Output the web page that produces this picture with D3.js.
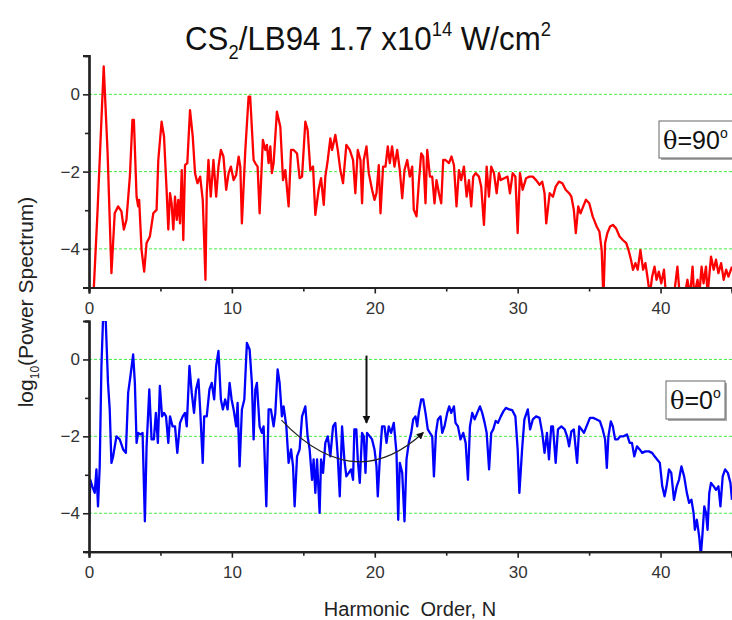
<!DOCTYPE html>
<html>
<head>
<meta charset="utf-8">
<script src="https://cdn.jsdelivr.net/npm/d3@7"></script>
<style>
  body { margin: 0; background: #fff; }
  text { font-family: Arial, "Liberation Sans", sans-serif; }
</style>
</head>
<body>
<svg id="chart" width="732" height="620"></svg>
<script>
// Data: [harmonic order, log10(power)]
var redSeries = [
  [0.3,-5.3],[0.6,-3.0],[1.03,0.72],[1.3,-1.5],[1.57,-4.63],[1.8,-3.08],[2.04,-2.9],[2.27,-3.03],[2.44,-3.5],[2.62,-3.25],
  [2.86,-2.13],[3.04,-0.66],[3.14,-0.66],[3.33,-2.65],[3.44,-2.9],[3.51,-2.73],[3.68,-4.03],[3.86,-4.59],[4.03,-3.85],[4.26,-3.68],
  [4.5,-3.08],[4.73,-2.99],[4.85,-1.7],[5.08,-0.71],[5.25,-1.09],[5.43,-2.47],[5.55,-3.5],[5.67,-2.56],[5.78,-2.82],[5.9,-3.5],
  [6.02,-2.65],[6.14,-3.25],[6.25,-2.73],[6.37,-3.34],[6.49,-1.96],[6.6,-3.77],[6.72,-1.83],[6.88,-1.78],[7.07,-0.41],[7.26,-1.09],
  [7.42,-2.04],[7.59,-2.3],[7.78,-2.13],[7.96,-2.73],[8.06,-3.77],[8.15,-4.8],[8.24,-2.56],[8.36,-1.7],[8.52,-2.65],[8.71,-1.7],
  [8.9,-2.65],[9.06,-1.87],[9.23,-1.44],[9.41,-1.61],[9.6,-2.47],[9.77,-2.04],[9.93,-1.87],[10.12,-2.22],[10.3,-2.09],[10.47,-1.61],
  [10.59,-1.87],[10.7,-3.34],[10.94,-1.44],[11.17,-0.06],[11.28,-0.06],[11.52,-1.7],[11.63,-1.78],[11.8,-1.87],[11.94,-3.08],[12.17,-1.18],
  [12.34,-1.44],[12.45,-1.31],[12.57,-1.78],[12.69,-1.35],[12.8,-2.04],[12.92,-1.78],[13.15,-0.45],[13.39,-0.84],[13.58,-2.22],[13.74,-1.96],
  [13.97,-2.9],[14.14,-1.44],[14.32,-1.44],[14.56,-1.53],[14.74,-2.17],[14.91,-2.13],[15.14,-0.71],[15.3,-0.92],[15.49,-1.96],[15.68,-1.87],
  [15.84,-3.12],[16.07,-2.47],[16.24,-2.17],[16.43,-2.86],[16.54,-2.13],[16.71,-1.7],[16.89,-1.14],[17.01,-1.44],[17.24,-1.05],[17.41,-1.44],
  [17.59,-1.96],[17.78,-2.3],[18.01,-1.31],[18.25,-1.44],[18.48,-1.7],[18.64,-2.56],[18.81,-1.44],[19.0,-1.7],[19.11,-2.82],[19.23,-1.7],
  [19.42,-1.35],[19.58,-2.04],[19.81,-2.47],[19.98,-2.73],[20.12,-2.56],[20.28,-1.83],[20.4,-3.08],[20.58,-1.87],[20.75,-1.87],[20.91,-1.35],
  [21.05,-1.78],[21.21,-1.35],[21.38,-1.87],[21.57,-1.44],[21.75,-1.96],[21.92,-2.69],[22.08,-1.96],[22.27,-1.7],[22.45,-2.13],[22.62,-1.87],
  [22.73,-2.99],[22.92,-3.16],[23.08,-2.3],[23.25,-1.53],[23.39,-1.61],[23.55,-2.82],[23.67,-1.44],[23.86,-2.13],[24.02,-2.13],[24.18,-2.82],
  [24.32,-2.22],[24.49,-2.56],[24.65,-2.82],[24.79,-1.7],[24.95,-1.7],[25.19,-1.78],[25.37,-1.61],[25.54,-1.83],[25.72,-2.9],[25.89,-1.96],
  [26.05,-2.22],[26.24,-1.87],[26.43,-2.65],[26.59,-2.22],[26.75,-2.9],[26.89,-2.13],[27.06,-2.04],[27.29,-2.13],[27.45,-2.39],[27.64,-3.38],
  [27.83,-1.87],[27.99,-2.65],[28.15,-1.87],[28.34,-2.04],[28.53,-2.56],[28.69,-2.04],[28.82,-2.22],[29.06,-2.17],[29.29,-2.13],[29.46,-2.56],
  [29.65,-2.04],[29.84,-2.13],[30.0,-3.59],[30.16,-2.04],[30.35,-2.47],[30.59,-2.17],[30.82,-2.13],[31.06,-2.13],[31.29,-2.22],[31.53,-2.34],
  [31.72,-2.26],[31.88,-2.56],[32.0,-3.34],[32.24,-2.56],[32.47,-2.65],[32.66,-2.39],[32.89,-2.26],[33.13,-2.3],[33.36,-2.47],[33.6,-2.56],
  [33.76,-2.65],[33.93,-2.99],[34.07,-3.59],[34.24,-2.9],[34.4,-3.08],[34.59,-2.9],[34.78,-2.73],[35.01,-2.82],[35.25,-3.16],[35.53,-3.42],
  [35.72,-3.55],[35.88,-4.03],[36.0,-5.3],[36.12,-3.85],[36.28,-3.59],[36.47,-3.42],[36.66,-3.38],[36.89,-3.47],[37.13,-3.68],[37.36,-3.77],
  [37.6,-3.85],[37.76,-4.03],[37.93,-4.28],[38.07,-4.54],[38.24,-4.37],[38.4,-4.54],[38.59,-4.03],[38.78,-4.54],[38.94,-4.37],[39.11,-4.8],
  [39.25,-5.2],[39.41,-4.72],[39.58,-4.46],[39.72,-4.8],[39.88,-4.59],[40.05,-4.89],[40.24,-4.54],[40.38,-5.2],[40.6,-5.3],[40.94,-5.2],
  [41.18,-4.46],[41.34,-5.2],[41.65,-5.3],[41.88,-4.8],[42.07,-5.2],[42.24,-4.46],[42.35,-5.2],[42.59,-4.8],[42.71,-5.2],[42.87,-4.46],
  [43.01,-4.89],[43.18,-4.46],[43.29,-5.2],[43.53,-4.2],[43.72,-4.54],[43.88,-4.28],[44.05,-4.63],[44.24,-4.37],[44.42,-4.8],[44.59,-4.54],
  [44.75,-4.72],[45.0,-4.46]
];

var blueSeries = [
  [0.0,-4.34],[0.09,-3.13],[0.23,-3.3],[0.4,-3.47],[0.52,-2.86],[0.63,-3.82],[0.75,-2.78],[0.87,-0.17],[0.98,1.02],[1.17,1.02],
  [1.33,-0.61],[1.45,-1.3],[1.57,-2.69],[1.69,-2.52],[1.92,-2.0],[2.15,-2.08],[2.39,-2.34],[2.58,-2.43],[2.74,-0.87],[2.9,-0.43],
  [3.09,0.13],[3.21,-0.61],[3.33,-2.17],[3.44,-1.91],[3.61,-1.95],[3.75,-1.91],[3.91,-4.21],[4.03,-2.26],[4.22,-0.78],[4.38,-2.08],
  [4.54,-2.08],[4.68,-1.39],[4.82,-2.17],[4.96,-0.69],[5.11,-1.48],[5.25,-1.39],[5.39,-1.48],[5.55,-2.17],[5.67,-1.48],[5.85,-1.74],
  [6.02,-1.74],[6.18,-2.43],[6.37,-1.65],[6.56,-1.48],[6.72,-1.39],[6.84,-1.74],[7.03,-0.17],[7.19,-0.87],[7.35,-1.39],[7.49,-0.78],
  [7.66,-0.52],[7.78,-1.3],[7.96,-2.69],[8.06,-1.48],[8.24,-1.48],[8.43,-0.78],[8.59,-0.61],[8.76,-1.04],[8.9,-0.17],[9.06,0.22],
  [9.23,-1.04],[9.37,-1.3],[9.53,-1.04],[9.7,-1.3],[9.84,-0.61],[9.98,-1.04],[10.12,-1.3],[10.3,-1.74],[10.4,-1.13],[10.54,-2.78],
  [10.7,-1.3],[10.87,-1.04],[11.05,0.43],[11.24,0.26],[11.4,-0.61],[11.52,-2.08],[11.64,-0.78],[11.75,-0.61],[11.94,-1.74],[12.1,-1.91],
  [12.22,-1.74],[12.41,-3.82],[12.57,-1.3],[12.73,-1.3],[12.92,-1.74],[13.04,-1.39],[13.2,-0.26],[13.34,-0.61],[13.5,-1.48],[13.62,-1.22],
  [13.81,-1.74],[13.97,-2.69],[14.14,-2.34],[14.28,-2.78],[14.39,-3.82],[14.56,-2.52],[14.74,-2.34],[14.91,-1.48],[15.14,-1.22],[15.3,-2.0],
  [15.44,-2.34],[15.61,-3.13],[15.72,-2.6],[15.84,-3.47],[15.96,-2.6],[16.14,-3.99],[16.24,-2.6],[16.38,-2.95],[16.54,-2.17],[16.71,-2.0],
  [16.89,-2.52],[17.08,-1.74],[17.24,-1.65],[17.41,-2.52],[17.55,-3.56],[17.71,-1.74],[17.87,-2.6],[18.01,-3.04],[18.18,-2.95],[18.34,-2.86],
  [18.48,-3.13],[18.57,-1.82],[18.71,-1.82],[18.81,-2.6],[18.95,-3.21],[19.11,-1.91],[19.23,-2.0],[19.35,-2.95],[19.46,-1.91],[19.65,-2.0],
  [19.81,-2.08],[19.98,-2.34],[20.12,-2.78],[20.21,-3.56],[20.35,-2.6],[20.51,-1.74],[20.68,-1.74],[20.82,-2.17],[20.98,-1.74],[21.14,-1.91],
  [21.33,-1.65],[21.52,-2.43],[21.64,-4.17],[21.75,-2.69],[21.92,-2.95],[22.08,-4.21],[22.22,-2.6],[22.38,-2.17],[22.55,-1.91],[22.69,-1.56],
  [22.85,-1.48],[22.97,-1.74],[23.08,-1.39],[23.25,-1.04],[23.39,-1.04],[23.55,-1.39],[23.71,-1.82],[23.86,-1.91],[24.02,-2.0],[24.14,-3.04],
  [24.28,-1.91],[24.42,-1.56],[24.6,-1.48],[24.72,-1.91],[24.88,-1.74],[25.07,-1.39],[25.21,-1.22],[25.35,-1.39],[25.54,-1.22],[25.65,-1.65],
  [25.82,-1.74],[26.0,-2.08],[26.19,-1.91],[26.36,-2.17],[26.52,-3.13],[26.66,-1.74],[26.82,-1.39],[26.99,-1.56],[27.17,-1.39],[27.36,-1.22],
  [27.52,-1.39],[27.69,-1.65],[27.83,-1.91],[28.0,-2.86],[28.15,-1.91],[28.29,-1.82],[28.46,-1.6],[28.62,-1.65],[28.82,-1.48],[29.0,-1.35],
  [29.18,-1.26],[29.41,-1.3],[29.62,-1.32],[29.84,-1.48],[30.0,-2.34],[30.12,-3.47],[30.31,-2.34],[30.47,-1.56],[30.71,-1.3],[30.87,-1.82],
  [31.06,-1.56],[31.29,-1.48],[31.53,-1.52],[31.72,-1.91],[31.88,-2.43],[32.05,-1.91],[32.19,-2.6],[32.35,-1.74],[32.47,-1.74],[32.66,-2.69],
  [32.82,-1.82],[33.06,-1.74],[33.29,-1.82],[33.46,-2.0],[33.6,-2.26],[33.76,-1.87],[33.93,-1.82],[34.16,-2.69],[34.31,-1.74],[34.47,-1.82],
  [34.64,-1.91],[34.82,-1.74],[35.06,-1.52],[35.29,-1.52],[35.53,-1.56],[35.76,-1.61],[35.95,-1.82],[36.12,-2.08],[36.24,-2.82],[36.35,-2.0],
  [36.52,-1.61],[36.66,-1.74],[36.82,-2.08],[36.99,-2.08],[37.18,-2.0],[37.41,-2.0],[37.65,-1.95],[37.84,-2.17],[38.0,-2.17],[38.16,-2.52],
  [38.35,-2.26],[38.54,-2.34],[38.71,-2.43],[38.94,-2.39],[39.18,-2.39],[39.41,-2.43],[39.58,-2.52],[39.76,-2.6],[39.95,-2.69],[40.12,-3.3],
  [40.28,-3.56],[40.42,-3.3],[40.59,-2.86],[40.75,-2.95],[40.94,-3.65],[41.13,-3.3],[41.29,-3.13],[41.46,-2.78],[41.65,-3.04],[41.84,-3.47],
  [42.0,-3.73],[42.16,-3.65],[42.31,-3.99],[42.4,-4.43],[42.54,-4.17],[42.71,-4.62],[42.82,-5.1],[42.94,-4.51],[43.06,-3.82],[43.18,-3.99],
  [43.29,-4.43],[43.41,-3.47],[43.53,-3.21],[43.72,-3.3],[43.88,-3.39],[44.05,-3.3],[44.19,-3.82],[44.35,-3.04],[44.52,-2.86],[44.71,-2.95],
  [44.89,-3.21],[45.0,-3.65]
];

var xMajorTicks = [0, 10, 20, 30, 40];
var xMinorTicks = [5, 15, 25, 35, 45];
var yMajorTicks = [0, -2, -4];
var yMinorTicks = [1, -1, -3, -5];
var gridValues = [0, -2, -4];

var svg = d3.select("#chart");
var left = 89, right = 732;

var x = d3.scaleLinear().domain([0, 45]).range([left, right]);

var panels = [
  { id: "top", data: redSeries, color: "#ff0000", y0: 55.7, y1: 287.5, label: "90", box: [659, 121, 80, 37] },
  { id: "bot", data: blueSeries, color: "#0000ff", y0: 321, y1: 551.7, label: "0", box: [666, 381, 59, 38] }
];

panels.forEach(function (p) {
  var y = d3.scaleLinear().domain([-5, 1]).range([p.y1, p.y0]);
  p.y = y;
  var g = svg.append("g");

  svg.append("clipPath").attr("id", "clip-" + p.id)
    .append("rect").attr("x", left).attr("y", p.y0).attr("width", right - left).attr("height", p.y1 - p.y0);

  // dotted green grid
  g.selectAll("line.grid").data(gridValues).enter().append("line")
    .attr("x1", left).attr("x2", right)
    .attr("y1", function (d) { return y(d); }).attr("y2", function (d) { return y(d); })
    .attr("stroke", "#44ee44").attr("stroke-width", 1).attr("stroke-dasharray", "3,2");

  var line = d3.line().x(function (d) { return x(d[0]); }).y(function (d) { return y(d[1]); });
  g.append("path").datum(p.data)
    .attr("clip-path", "url(#clip-" + p.id + ")")
    .attr("d", line).attr("fill", "none")
    .attr("stroke", p.color).attr("stroke-width", 2.3).attr("stroke-linejoin", "round");

  // axes
  g.append("g").attr("transform", "translate(" + left + ",0)")
    .call(d3.axisLeft(y).tickValues(yMajorTicks).tickSize(6).tickPadding(3).tickFormat(d3.format("d")));
  g.append("g").attr("transform", "translate(" + left + ",0)")
    .call(d3.axisLeft(y).tickValues(yMinorTicks).tickSize(4).tickFormat(""));
  g.append("g").attr("transform", "translate(0," + p.y1 + ")")
    .call(d3.axisBottom(x).tickValues(xMajorTicks).tickSize(6).tickPadding(8));
  g.append("g").attr("transform", "translate(0," + p.y1 + ")")
    .call(d3.axisBottom(x).tickValues(xMinorTicks).tickSize(4).tickFormat(""));

  g.selectAll(".domain").attr("stroke", "#222").attr("stroke-width", 2.2);
  g.selectAll(".tick line").attr("stroke", "#222").attr("stroke-width", 1.6);
  g.selectAll(".tick text").attr("fill", "#333").style("font-size", "17px")
    .style("font-family", "Arial, 'Liberation Sans', sans-serif");

  // label box
  var b = p.box;
  g.append("rect").attr("x", b[0] + 2).attr("y", b[1] + 2).attr("width", b[2]).attr("height", b[3]).attr("fill", "#aaa");
  g.append("rect").attr("x", b[0]).attr("y", b[1]).attr("width", b[2]).attr("height", b[3])
    .attr("fill", "#fff").attr("stroke", "#666").attr("stroke-width", 1);
  var t = g.append("text").attr("x", b[0] + 4).attr("y", b[1] + 28).style("font-size", "25px").attr("fill", "#111");
  t.append("tspan").text("θ").style("font-family", "'DejaVu Serif', 'Liberation Serif', serif").style("font-size", "24px");
  t.append("tspan").text("=" + p.label);
  t.append("tspan").text("o").style("font-size", "14px").attr("dy", -11);
});

// arrows in the lower panel
var yb = panels[1].y;
var defs = svg.append("defs");
defs.append("marker").attr("id", "head").attr("viewBox", "0 0 10 10").attr("refX", 9).attr("refY", 5)
  .attr("markerWidth", 4).attr("markerHeight", 4).attr("orient", "auto")
  .append("path").attr("d", "M0,0L10,5L0,10Z").attr("fill", "#111");
defs.append("marker").attr("id", "head2").attr("viewBox", "0 0 10 10").attr("refX", 9).attr("refY", 5)
  .attr("markerWidth", 6).attr("markerHeight", 6).attr("orient", "auto")
  .append("path").attr("d", "M0,0L10,5L0,10Z").attr("fill", "#111");

svg.append("line")
  .attr("x1", x(19.42)).attr("x2", x(19.42)).attr("y1", yb(0.1)).attr("y2", yb(-1.65))
  .attr("stroke", "#111").attr("stroke-width", 2).attr("marker-end", "url(#head)");

var cp = d3.path();
cp.moveTo(x(13.47), yb(-1.58));
cp.quadraticCurveTo(x(18.55), yb(-3.57), x(23.4), yb(-1.9));
svg.append("path").attr("d", cp.toString()).attr("fill", "none")
  .attr("stroke", "#222").attr("stroke-width", 1.2).attr("marker-end", "url(#head2)");

// title (slightly condensed, like the original)
var title = svg.append("text").attr("transform", "translate(368,50) scale(0.92,1)")
  .attr("text-anchor", "middle").style("font-size", "34px").attr("fill", "#111");
title.append("tspan").text("CS");
title.append("tspan").text("2").style("font-size", "20px").attr("dy", 9);
title.append("tspan").text("/LB94 1.7 x10").attr("dy", -9);
title.append("tspan").text("14").style("font-size", "20px").attr("dy", -14);
title.append("tspan").text(" W/cm").attr("dy", 14);
title.append("tspan").text("2").style("font-size", "20px").attr("dy", -14);

// axis labels
var yl = svg.append("text").attr("transform", "translate(33,302) rotate(-90)")
  .attr("text-anchor", "middle").style("font-size", "21px").attr("fill", "#222");
yl.append("tspan").text("log");
yl.append("tspan").text("10").style("font-size", "12px").attr("dy", 6);
yl.append("tspan").text("(Power Spectrum)").attr("dy", -6);

svg.append("text").attr("x", 410).attr("y", 616).attr("text-anchor", "middle")
  .style("font-size", "20px").attr("fill", "#222")
  .text("Harmonic\u00a0 Order, N");
</script>
</body>
</html>
